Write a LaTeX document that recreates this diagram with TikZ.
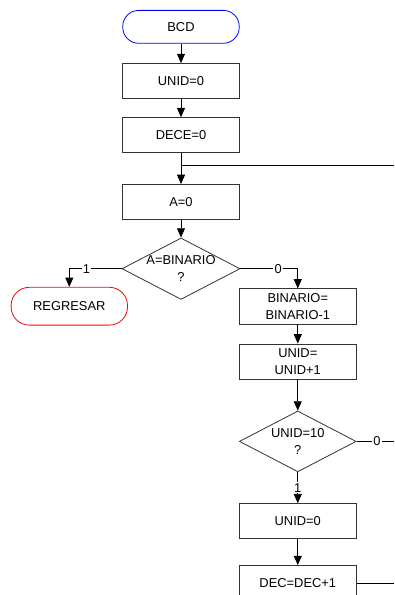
\documentclass[tikz,border=0pt]{standalone}
\usepackage{fontspec}
\setmainfont{Liberation Sans}
\usetikzlibrary{arrows.meta, shapes.geometric}

\begin{document}
\begin{tikzpicture}[>={Triangle[length=7pt, width=6pt]},
    every node/.style={font=\fontsize{9.7}{12.4}\selectfont},
    caja/.style={draw=black!80, line width=0.6pt, minimum width=3.09cm,
                 minimum height=0.93cm, inner sep=1pt, align=center},
    decision/.style={diamond, draw=black!80, line width=0.6pt, shape aspect=1.92,
                     inner sep=0pt, minimum width=3.09cm, minimum height=1.61cm, align=center},
    inicio/.style={draw=blue, line width=0.6pt, rounded corners=0.42cm,
                   minimum width=3.08cm, minimum height=0.87cm},
    fin/.style={draw=red, line width=0.6pt, rounded corners=0.48cm,
                minimum width=3.08cm, minimum height=1.0cm},
    etiq/.style={fill=white, inner sep=1pt},
    flecha/.style={->, line width=0.6pt}]
  \path[use as bounding box, clip] (0,0) rectangle (10.425,15.743);

  % Bloques
  \node[inicio] (bcd) at (4.789, 15.033) {BCD};
  \node[caja] (unid) at (4.789, 13.599) {UNID=0};
  \node[caja] (dece) at (4.789, 12.165) {DECE=0};
  \node[caja] (a0) at (4.789, 10.398) {A=0};
  \node[decision] (compA) at (4.789, 8.633) {A=BINARIO\\?};
  \node[fin] (regresar) at (1.834, 7.641) {REGRESAR};
  \node[caja] (binario) at (7.879, 7.636) {BINARIO=\\BINARIO-1};
  \node[caja] (unid1) at (7.879, 6.178) {UNID=\\UNID+1};
  \node[decision] (compU) at (7.879, 4.064) {UNID=10\\?};
  \node[caja] (unid0) at (7.879, 1.953) {UNID=0};
  \node[caja] (decinc) at (7.879, 0.315) {DEC=DEC+1};

  % Puntos de union
  \coordinate (union) at (4.789, 11.377);
  \coordinate (vuelta) at (10.425, 11.377);
  \coordinate (sal0) at (10.425, 4.064);
  \coordinate (sal1) at (10.425, 0.315);

  % Flechas
  \draw[flecha] (bcd) -- (unid);
  \draw[flecha] (unid) -- (dece);
  \draw[flecha] (dece) -- (a0);
  \draw[line width=0.6pt] (vuelta) -- (union);
  \draw[flecha] (a0) -- (compA);
  \draw[flecha] (compA.west) -| node[etiq, pos=0.335] {1} (regresar.north);
  \draw[flecha] (compA.east) -| node[etiq, pos=0.33] {0} (binario.north);
  \draw[flecha] (binario) -- (unid1);
  \draw[flecha] (unid1) -- (compU);
  \draw[line width=0.6pt] (compU.east) -- node[etiq, pos=0.545] {0} (sal0);
  \draw[flecha] (compU.south) -- node[etiq] {1} (unid0.north);
  \draw[flecha] (unid0) -- (decinc);
  \draw[line width=0.6pt] (decinc.east) -- (sal1);
\end{tikzpicture}
\end{document}
